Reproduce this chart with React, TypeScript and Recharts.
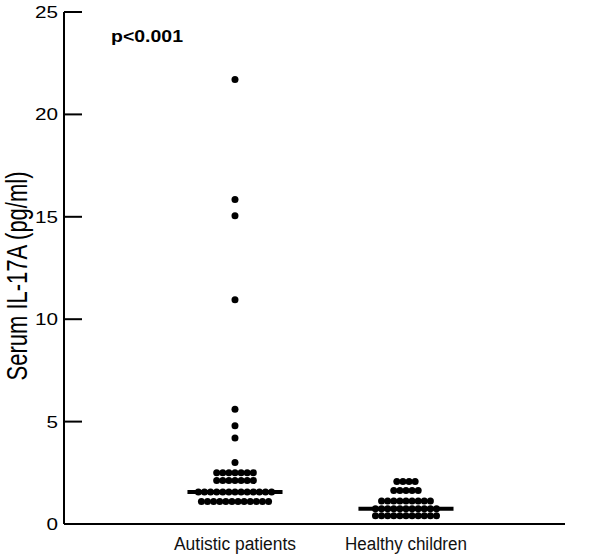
import { ScatterChart, Scatter, XAxis, YAxis, ReferenceLine } from 'recharts'

// group names on the x axis
const groups = ['Autistic patients', 'Healthy children']

// dot rows: y level (pg/ml) and number of dots in the row
const autisticLevels = [21.7, 15.85, 15.05, 10.95, 5.6, 4.8, 4.2, 3.0, 2.5, 2.12, 1.1]
const autisticCounts = [1, 1, 1, 1, 1, 1, 1, 1, 7, 7, 12]
const autisticMedianRow = { level: 1.56, count: 13 }
const healthyLevels = [2.08, 1.63, 1.12, 0.4]
const healthyCounts = [4, 5, 9, 11]
const healthyMedianRow = { level: 0.75, count: 11 }

const medians = [1.56, 0.75]
const yTicks = [0, 5, 10, 15, 20, 25]
const pValue = 'p<0.001'

const dotStep = 0.0357 // horizontal gap between touching dots, x units
const medianHalf = 0.278

type Pt = { x: number; y: number }

const swarm = (center: number, levels: number[], counts: number[]): Pt[] => {
   const out: Pt[] = []
   levels.forEach((lv, r) => {
      const n = counts[r]
      for (let i = 0; i < n; i++) out.push({ x: center + (i - (n - 1) / 2) * dotStep, y: lv })
   })
   return out
}

const autisticData = swarm(1, [...autisticLevels, autisticMedianRow.level], [...autisticCounts, autisticMedianRow.count])
const healthyData = swarm(2, [...healthyLevels, healthyMedianRow.level], [...healthyCounts, healthyMedianRow.count])

const font = "'Liberation Sans', Arial, sans-serif"

const Dot = (p: any) => <circle cx={ p.cx } cy={ p.cy } r={ 3.5 } fill='#000' />

const YTick = (p: any) => {
   const label = String(p.payload.value)
   return (
      <g>
         <line x1={ p.x } y1={ p.y } x2={ p.x + 18 } y2={ p.y } stroke='#000' strokeWidth={ 2 } />
         <text x={ p.x - 6 } y={ p.y + 6 } textAnchor='end' fontSize={ 17 } fontFamily={ font }
            textLength={ 11.5 * label.length } lengthAdjust='spacingAndGlyphs' fill='#000'>{ label }</text>
      </g>
   )
}

const XTick = (p: any) => {
   const label = groups[Math.round(p.payload.value) - 1]
   return (
      <text x={ p.x } y={ p.y + 26 } textAnchor='middle' fontSize={ 18 } fontFamily={ font }
         textLength={ 122 } lengthAdjust='spacingAndGlyphs' fill='#111'>{ label }</text>
   )
}

export default function App() {
   return (
      <div style={{ position: 'absolute', left: 0, top: 0, background: '#fff' }}>
         <ScatterChart width={ 600 } height={ 559 } margin={{ top: 12, right: 35, bottom: 0, left: 0 }}>
            <XAxis
               type='number'
               dataKey='x'
               domain={ [0, 2.93] }
               ticks={ [1, 2] }
               allowDataOverflow
               height={ 35 }
               tickLine={ false }
               tickSize={ 0 }
               tickMargin={ 0 }
               axisLine={{ stroke: '#000', strokeWidth: 2 }}
               tick={ <XTick /> }
            />
            <YAxis
               type='number'
               dataKey='y'
               domain={ [0, 25] }
               ticks={ yTicks }
               width={ 64 }
               tickLine={ false }
               tickSize={ 0 }
               tickMargin={ 0 }
               axisLine={{ stroke: '#000', strokeWidth: 2 }}
               tick={ <YTick /> }
            />
            <Scatter data={ autisticData } shape={ Dot } isAnimationActive={ false } />
            <Scatter data={ healthyData } shape={ Dot } isAnimationActive={ false } />
            { medians.map((m, i) => (
               <ReferenceLine
                  key={ i }
                  segment={ [{ x: i + 1 - medianHalf, y: m }, { x: i + 1 + medianHalf, y: m }] }
                  stroke='#000'
                  strokeWidth={ 4 }
               />
            )) }
            <text x={ 111 } y={ 42 } fontSize={ 17 } fontWeight='bold' fontFamily={ font }
               textLength={ 72 } lengthAdjust='spacingAndGlyphs' fill='#000'>{ pValue }</text>
            <text transform='translate(27,276) rotate(-90) scale(1,1.3)' textAnchor='middle' fontSize={ 22 }
               fontFamily={ font } fill='#000'>Serum IL-17A (pg/ml)</text>
         </ScatterChart>
      </div>
   )
}
